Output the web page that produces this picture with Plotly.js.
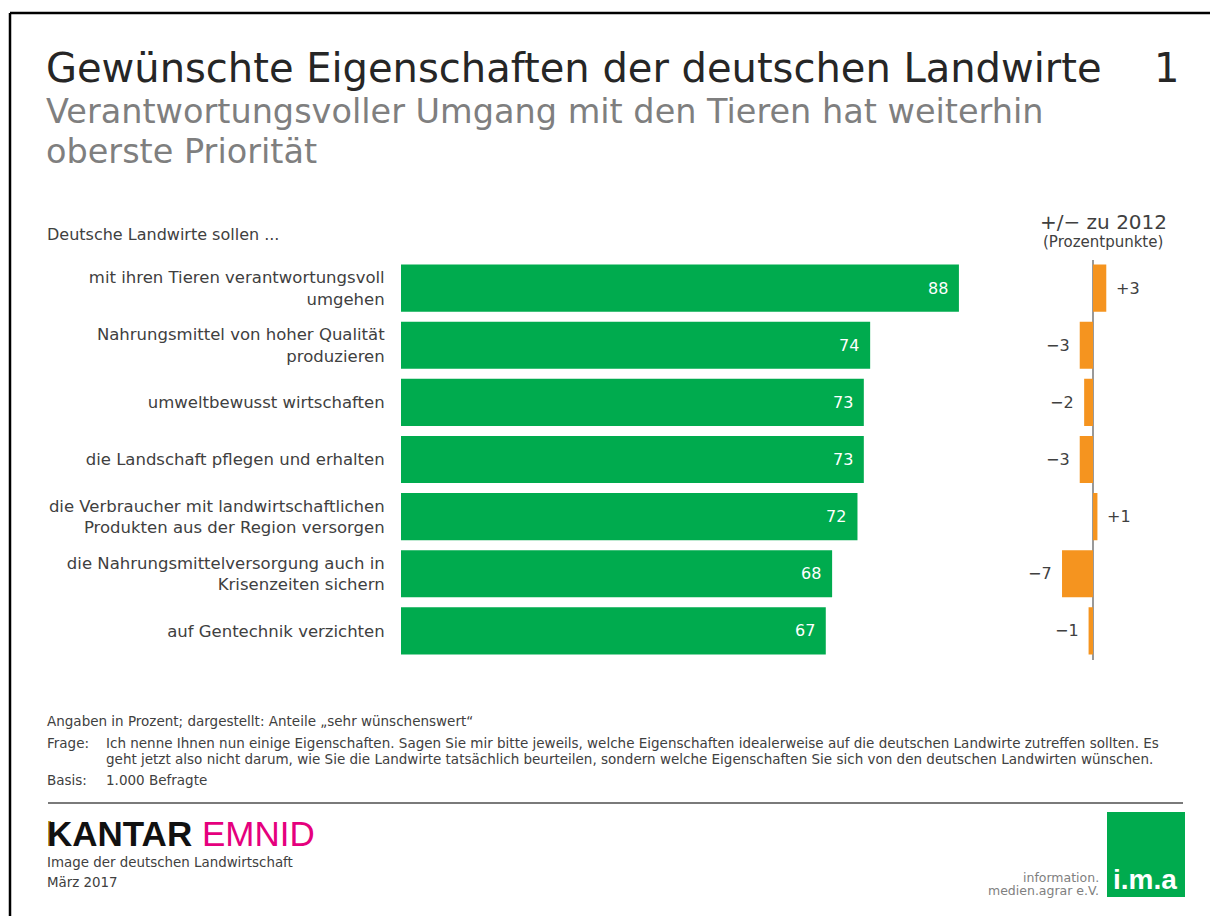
<!DOCTYPE html>
<html>
<head>
<meta charset="utf-8">
<script src="https://cdn.plot.ly/plotly-3.0.1.min.js"></script>
<style>
  body { margin: 0; padding: 0; background: #fff; }
  #plot { width: 1210px; height: 916px; }
</style>
</head>
<body>
<div id="plot"></div>
<script>
// Kategorien (Aussagen) und Werte
var categories = [
  "mit ihren Tieren verantwortungsvoll<br>umgehen",
  "Nahrungsmittel von hoher Qualität<br>produzieren",
  "umweltbewusst wirtschaften",
  "die Landschaft pflegen und erhalten",
  "die Verbraucher mit landwirtschaftlichen<br>Produkten aus der Region versorgen",
  "die Nahrungsmittelversorgung auch in<br>Krisenzeiten sichern",
  "auf Gentechnik verzichten"
];
var shares = [88, 74, 73, 73, 72, 68, 67];
var changes = [3, -3, -2, -3, 1, -7, -1];

var green = '#00AB4E';
var orange = '#F5941F';
var textColor = '#404040';
var font = 'DejaVu Sans, Verdana, sans-serif';

// pixel -> paper helpers (margins are 0)
var W = 1210, H = 916;
function px(x) { return x / W; }
function py(y) { return 1 - y / H; }

var trace1 = {
  x: shares,
  y: categories,
  type: 'bar',
  orientation: 'h',
  marker: { color: green },
  hoverinfo: 'x',
  xaxis: 'x',
  yaxis: 'y'
};

var trace2 = {
  x: changes,
  y: categories,
  type: 'bar',
  orientation: 'h',
  marker: { color: orange },
  hoverinfo: 'x',
  xaxis: 'x2',
  yaxis: 'y'
};

var data = [trace1, trace2];

function fmt(v) {
  return v > 0 ? '+' + v : '\u2212' + Math.abs(v);
}

var annotations = [];

// value labels inside green bars
shares.forEach(function (v, i) {
  annotations.push({
    x: v, y: categories[i], xref: 'x', yref: 'y',
    text: String(v), showarrow: false, xanchor: 'right', xshift: -9,
    font: { family: font, size: 16, color: '#ffffff' }
  });
});

// labels next to orange bars
changes.forEach(function (v, i) {
  annotations.push({
    x: v, y: categories[i], xref: 'x2', yref: 'y',
    text: fmt(v), showarrow: false,
    xanchor: v > 0 ? 'left' : 'right', xshift: v > 0 ? 8 : -8,
    font: { family: font, size: 16, color: textColor }
  });
});

function note(text, x, y, size, color, opts) {
  var a = {
    x: px(x), y: py(y), xref: 'paper', yref: 'paper',
    text: text, showarrow: false, xanchor: 'left', yanchor: 'middle',
    align: 'left',
    font: { family: font, size: size, color: color }
  };
  for (var k in opts) a[k] = opts[k];
  annotations.push(a);
}

// Titel
note('Gewünschte Eigenschaften der deutschen Landwirte', 44, 68, 40, '#262626');
note('1', 1181, 68, 40, '#262626', { xanchor: 'right' });
note('Verantwortungsvoller Umgang mit den Tieren hat weiterhin', 44, 112, 33.5, '#7F7F7F');
note('oberste Priorität', 44, 152, 33.5, '#7F7F7F');

// Kopf links / rechts
note('Deutsche Landwirte sollen ...', 45, 234, 16, textColor);
note('+/\u2212 zu 2012', 1103, 222, 20, textColor, { xanchor: 'center' });
note('(Prozentpunkte)', 1103, 242, 15, textColor, { xanchor: 'center' });

// Fussnoten
note('Angaben in Prozent; dargestellt: Anteile „sehr wünschenswert“', 45, 721, 13.5, textColor);
note('Frage:', 45, 743, 13.5, textColor);
note('Ich nenne Ihnen nun einige Eigenschaften. Sagen Sie mir bitte jeweils, welche Eigenschaften idealerweise auf die deutschen Landwirte zutreffen sollten. Es', 104, 743, 13.5, textColor);
note('geht jetzt also nicht darum, wie Sie die Landwirte tatsächlich beurteilen, sondern welche Eigenschaften Sie sich von den deutschen Landwirten wünschen.', 104, 759, 13.5, textColor);
note('Basis:', 45, 780, 13.5, textColor);
note('1.000 Befragte', 104, 780, 13.5, textColor);

// Logo Kantar Emnid
note('<b>KANTAR</b> <span style="color:#E5007D">EMNID</span>', 45, 833, 35, '#111111',
  { font: { family: 'Liberation Sans, Arial, sans-serif', size: 35, color: '#111111' } });
note('Image der deutschen Landwirtschaft', 45, 862, 13.4, textColor);
note('März 2017', 45, 882, 13.4, textColor);

// Logo i.m.a
note('<b>i.m.a</b>', 1145, 879, 28, '#ffffff',
  { xanchor: 'center', font: { family: 'Liberation Sans, Arial, sans-serif', size: 28, color: '#ffffff' } });
note('information.', 1101, 877, 12.5, '#808080', { xanchor: 'right' });
note('medien.agrar e.V.', 1101, 890, 12.5, '#808080', { xanchor: 'right' });

var shapes = [
  // Rahmen
  { type: 'line', xref: 'paper', yref: 'paper', x0: px(10), x1: px(1210), y0: py(13), y1: py(13),
    line: { color: '#000', width: 2.5 } },
  { type: 'line', xref: 'paper', yref: 'paper', x0: px(10), x1: px(10), y0: py(13), y1: py(916),
    line: { color: '#000', width: 2.5 } },
  // Trennlinie
  { type: 'line', xref: 'paper', yref: 'paper', x0: px(48), x1: px(1183), y0: py(803), y1: py(803),
    line: { color: '#7a7a7a', width: 2 } },
  // Kantar Goldkante
  { type: 'rect', xref: 'paper', yref: 'paper', x0: px(48), x1: px(51), y0: py(846), y1: py(821),
    line: { width: 0 }, fillcolor: '#C9A227' },
  // i.m.a Feld
  { type: 'rect', xref: 'paper', yref: 'paper', x0: px(1107), x1: px(1185), y0: py(897), y1: py(812),
    line: { width: 0 }, fillcolor: green, layer: 'below' }
];

var layout = {
  width: W,
  height: H,
  margin: { l: 0, r: 0, t: 0, b: 0 },
  paper_bgcolor: '#ffffff',
  plot_bgcolor: 'rgba(0,0,0,0)',
  showlegend: false,
  bargap: 0.175,
  xaxis: {
    domain: [px(401), px(1035)],
    range: [0, 100],
    showgrid: false, zeroline: false, showticklabels: false, showline: false,
    fixedrange: true
  },
  xaxis2: {
    domain: [px(1057.6), px(1110.7)],
    range: [-8, 4],
    anchor: 'y',
    showgrid: false, showticklabels: false, showline: false,
    zeroline: true, zerolinecolor: '#999999', zerolinewidth: 1.5,
    fixedrange: true
  },
  yaxis: {
    domain: [py(659.5), py(259.5)],
    autorange: 'reversed',
    showgrid: false, zeroline: false, showline: false,
    ticks: 'outside', ticklen: 12, tickcolor: 'rgba(0,0,0,0)',
    tickfont: { family: font, size: 16.5, color: textColor },
    fixedrange: true
  },
  annotations: annotations,
  shapes: shapes
};

Plotly.newPlot('plot', data, layout, { displayModeBar: false, staticPlot: true });
</script>
</body>
</html>
